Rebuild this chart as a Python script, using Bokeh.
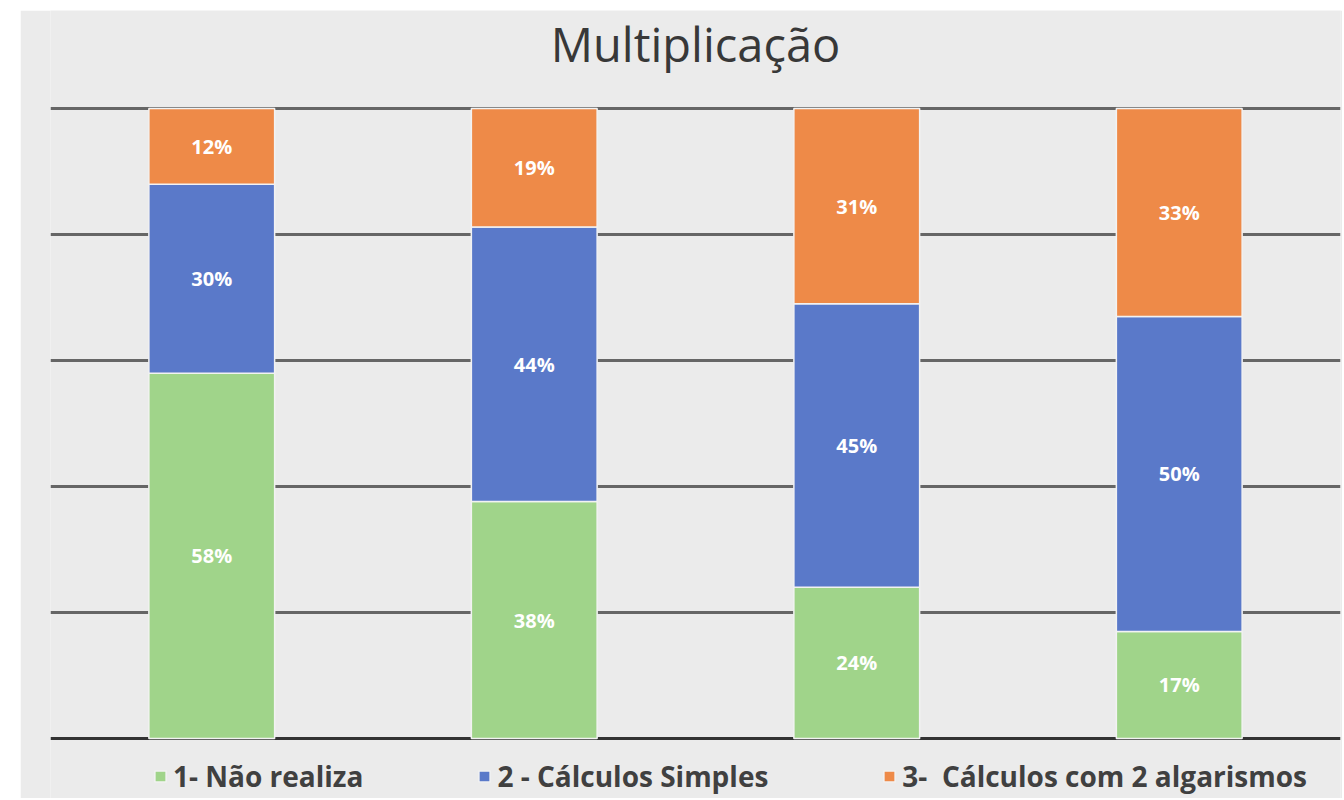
from bokeh.plotting import figure
from bokeh.models import ColumnDataSource, Legend, LegendItem, FixedTicker, Range1d, Span, Label
from bokeh.embed import file_html
from bokeh.resources import INLINE
from bokeh.core.properties import value

# ---- data ----
categories = ["2º", "3º", "4º", "5º"]
series_names = ["1- Não realiza", "2 - Cálculos Simples", "3-  Cálculos com 2 algarismos"]
nao_realiza = [58, 38, 24, 17]
calculos_simples = [30, 44, 45, 50]
calculos_2_algarismos = [12, 19, 31, 33]
colors = ["#a0d48a", "#5a79c9", "#ee8a48"]
title_text = "Multiplicação"

series = [nao_realiza, calculos_simples, calculos_2_algarismos]
totals = [sum(v) for v in zip(*series)]

data = {"cat": categories}
bottoms = [0.0] * len(categories)
for i, s in enumerate(series):
    frac = [v / t for v, t in zip(s, totals)]
    tops = [b + f for b, f in zip(bottoms, frac)]
    data[f"b{i}"] = list(bottoms)
    data[f"t{i}"] = tops
    data[f"m{i}"] = [(b + t) / 2 for b, t in zip(bottoms, tops)]
    data[f"lab{i}"] = [f"{v}%" for v in s]
    bottoms = tops
src = ColumnDataSource(data)

# frame spans the whole chart box so title and legend sit inside it
p = figure(x_range=categories, y_range=Range1d(-0.0952, 1.1556),
           width=1322, height=788, output_backend="svg", toolbar_location=None,
           min_border_left=30, min_border_right=2, min_border_top=0, min_border_bottom=0)
p.margin = (10, 0, 0, 20)
p.x_range.range_padding = 0
p.background_fill_color = "#ebebeb"
p.border_fill_color = "#ebebeb"
p.outline_line_color = None

p.add_layout(Label(x=2.0, y=1.103, text=title_text, text_align="center",
                   text_baseline="alphabetic", text_font="Open Sans",
                   text_font_size="47px", text_color="#383838"))

p.xaxis.visible = False
p.yaxis.visible = False
p.xgrid.visible = False
p.ygrid.ticker = FixedTicker(ticks=[0.2, 0.4, 0.6, 0.8, 1.0])
p.ygrid.grid_line_color = "#666666"
p.ygrid.grid_line_width = 3

base = Span(location=0, dimension="width", line_color="#333333", line_width=3, level="underlay")
p.add_layout(base)

renderers = []
for i in range(3):
    r = p.vbar(x="cat", bottom=f"b{i}", top=f"t{i}", width=0.39, source=src,
               fill_color=colors[i], line_color="#f2f2f2", line_width=1.5)
    renderers.append(r)
    p.text(x="cat", y=f"m{i}", text=f"lab{i}", source=src,
           text_color="#ffffff", text_font=value("Open Sans"), text_font_style="bold",
           text_font_size="20px", text_align="center", text_baseline="middle")

legend = Legend(items=[LegendItem(label=n, renderers=[r]) for n, r in zip(series_names, renderers)],
                orientation="horizontal", location=(103, 3),
                label_text_font="Open Sans", label_text_font_style="bold",
                label_text_font_size="28px", label_text_color="#404040",
                glyph_width=14, glyph_height=14, label_standoff=6, spacing=114,
                padding=0, margin=0, background_fill_alpha=0, border_line_alpha=0)
p.add_layout(legend)

open("out.html", "w").write(file_html(p, INLINE))
